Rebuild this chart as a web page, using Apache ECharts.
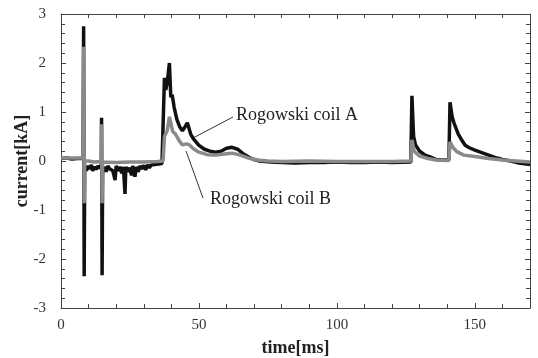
<!DOCTYPE html>
<html>
<head>
<meta charset="utf-8">
<script src="https://cdn.jsdelivr.net/npm/echarts@6/dist/echarts.min.js"></script>
<style>
  html, body { margin: 0; padding: 0; background: #fff; }
  #chart { width: 538px; height: 358px; }
</style>
</head>
<body>
<div id="chart"></div>
<script>
// Rogowski coil A (black) — time [ms] / current [kA]
const timeA = [0, 2, 4, 6, 8, 8.2, 8.4, 8.6, 9.2, 9.8, 10.5, 11, 11.5, 12.2, 12.8, 13.5, 14.1, 14.6, 14.7, 14.9, 15.1, 15.8, 16.4, 17, 17.6, 18.2, 18.8, 19.6, 20, 20.7, 21.3, 22, 22.6, 23.2, 23.5, 24.1, 24.8, 25.6, 26, 26.8, 27.3, 28, 28.6, 29.3, 30, 30.7, 31.4, 32, 32.7, 33.4, 34, 34.7, 35.4, 36, 36.6, 37, 37.5, 38, 38.6, 39.3, 39.8, 40.3, 41, 42, 43, 44, 45, 45.8, 47, 48, 50, 52, 54, 56, 58, 60, 62, 64, 66, 68, 70, 72, 76, 80, 85, 90, 95, 100, 105, 110, 115, 120, 126.8, 127.2, 127.8, 128.5, 130, 132, 134, 136, 138, 140.6, 141, 141.8, 142.5, 144, 145, 146.5, 148, 150, 152, 154, 156, 158, 160, 163, 166, 170];
const currentA = [0.05, 0.06, 0.04, 0.05, 0.05, 2.75, -2.35, -0.1, -0.2, -0.1, -0.16, -0.08, -0.2, -0.12, -0.17, -0.1, -0.15, -0.1, 0.88, -2.33, -0.2, -0.12, -0.22, -0.1, -0.16, -0.12, -0.2, -0.39, -0.1, -0.2, -0.12, -0.25, -0.12, -0.67, -0.12, -0.22, -0.14, -0.29, -0.1, -0.32, -0.12, -0.22, -0.1, -0.16, -0.09, -0.18, -0.08, -0.14, -0.08, -0.12, -0.07, -0.1, -0.06, -0.09, -0.05, -0.05, 1.7, 1.45, 1.65, 2.0, 1.3, 1.35, 1.1, 0.85, 0.7, 0.62, 0.7, 0.78, 0.55, 0.45, 0.32, 0.24, 0.2, 0.18, 0.2, 0.26, 0.28, 0.24, 0.15, 0.08, 0.03, 0.0, -0.02, -0.03, -0.04, -0.03, -0.03, -0.02, -0.03, -0.03, -0.02, -0.03, -0.02, 1.33, 0.5, 0.33, 0.2, 0.12, 0.08, 0.03, 0.02, 0.02, 1.2, 0.9, 0.77, 0.55, 0.45, 0.32, 0.27, 0.22, 0.18, 0.14, 0.1, 0.06, 0.03, 0.0, -0.04, -0.07];

// Rogowski coil B (gray)
const timeB = [0, 8, 8.2, 8.4, 8.6, 10, 12, 14.6, 14.7, 14.9, 15.1, 20, 25, 30, 35, 37, 37.5, 38.5, 39.3, 40.5, 41.5, 43, 44, 45.5, 46.5, 48, 50, 53, 56, 60, 62, 65, 68, 71, 75, 80, 90, 100, 110, 120, 126.8, 127.2, 128, 130, 133, 136, 140.6, 141, 142, 143.5, 146, 150, 155, 160, 165, 170];
const currentB = [0.06, 0.06, 2.33, -0.86, 0.0, 0.0, -0.02, -0.01, 0.75, -0.86, -0.02, -0.03, -0.02, -0.02, -0.01, 0.0, 0.5, 0.62, 0.9, 0.6, 0.55, 0.4, 0.33, 0.35, 0.33, 0.25, 0.18, 0.13, 0.12, 0.15, 0.16, 0.12, 0.06, 0.02, 0.0, -0.01, 0.0, -0.01, -0.01, -0.01, 0.0, 0.43, 0.2, 0.1, 0.05, 0.02, 0.01, 0.39, 0.28, 0.19, 0.12, 0.09, 0.05, 0.02, 0.0, -0.02];

const serif = "'Liberation Serif', 'DejaVu Serif', serif";
const axisColor = "#444";

function pairs(xs, ys) {
  return xs.map((x, i) => [x, ys[i]]);
}

function xAxisDef(show) {
  return {
    type: "value",
    min: 0,
    max: 170,
    interval: 50,
    position: show ? "bottom" : "top",
    name: show ? "time[ms]" : "",
    nameLocation: "middle",
    nameGap: 31,
    nameMoveOverlap: false,
    nameTextStyle: { fontFamily: serif, fontSize: 18, fontWeight: "bold", color: "#222" },
    axisLine: { show: true, onZero: false, lineStyle: { color: axisColor, width: 1 } },
    axisTick: { show: true, inside: true, length: 5, lineStyle: { color: axisColor } },
    minorTick: { show: true, splitNumber: 5, length: 4, lineStyle: { color: axisColor } },
    axisLabel: { show: show, fontFamily: serif, fontSize: 15, color: "#333", margin: 10, showMaxLabel: false },
    splitLine: { show: false },
  };
}

function yAxisDef(show) {
  return {
    type: "value",
    min: -3,
    max: 3,
    interval: 1,
    position: show ? "left" : "right",
    name: show ? "current[kA]" : "",
    nameLocation: "middle",
    nameGap: 30,
    nameMoveOverlap: false,
    nameTextStyle: { fontFamily: serif, fontSize: 18, fontWeight: "bold", color: "#222" },
    axisLine: { show: true, onZero: false, lineStyle: { color: axisColor, width: 1 } },
    axisTick: { show: true, inside: true, length: 5, lineStyle: { color: axisColor } },
    minorTick: { show: true, splitNumber: 5, length: 4, lineStyle: { color: axisColor } },
    axisLabel: { show: show, fontFamily: serif, fontSize: 15, color: "#333", margin: 15 },
    splitLine: { show: false },
  };
}

const chart = echarts.init(document.getElementById("chart"), null, { renderer: "canvas" });
chart.setOption({
  animation: false,
  backgroundColor: "#fff",
  grid: { left: 61, right: 8, top: 14, bottom: 50, containLabel: false, outerBoundsMode: "none" },
  xAxis: [xAxisDef(true), xAxisDef(false)],
  yAxis: [yAxisDef(true), yAxisDef(false)],
  series: [
    {
      name: "Rogowski coil A",
      type: "line",
      data: pairs(timeA, currentA),
      showSymbol: false,
      lineStyle: { color: "#111", width: 3.5 },
      z: 2,
    },
    {
      name: "Rogowski coil B",
      type: "line",
      data: pairs(timeB, currentB),
      showSymbol: false,
      lineStyle: { color: "#8a8a8a", width: 3.5 },
      z: 3,
    },
  ],
  graphic: [
    { type: "line", shape: { x1: 233, y1: 117, x2: 193, y2: 138 }, style: { stroke: "#333", lineWidth: 1 } },
    { type: "line", shape: { x1: 186, y1: 151, x2: 203, y2: 198 }, style: { stroke: "#333", lineWidth: 1 } },
    { type: "text", left: 236, top: 106, style: { text: "Rogowski coil A", font: "18px " + serif, fill: "#222" } },
    { type: "text", left: 210, top: 190, style: { text: "Rogowski coil B", font: "18px " + serif, fill: "#222" } },
  ],
});
</script>
</body>
</html>
